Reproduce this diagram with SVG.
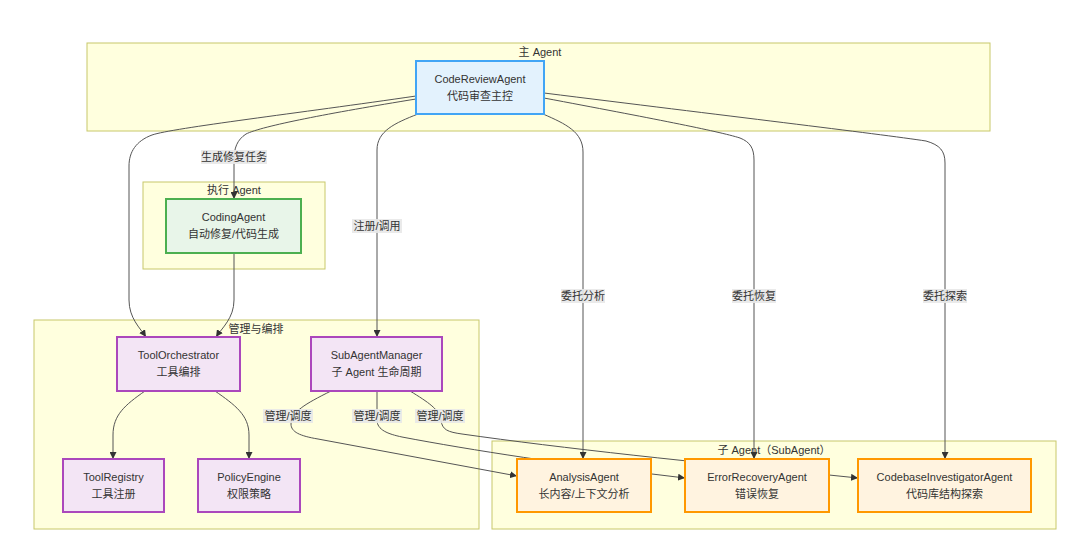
<svg xmlns="http://www.w3.org/2000/svg" width="1080" height="553" viewBox="0 0 1080 553">
<defs>
<marker id="arr" viewBox="0 0 10 10" refX="10" refY="5" markerWidth="7" markerHeight="7" markerUnits="userSpaceOnUse" orient="auto">
<path d="M0,0 L10,5 L0,10 z" fill="#333"/>
</marker>
<style>
text{font-family:"Liberation Sans","Noto Sans CJK SC",sans-serif;font-size:11px;fill:#333;text-anchor:middle;dominant-baseline:central}
.cluster{fill:#ffffde;stroke:#c8c86a;stroke-width:1}
.edge{fill:none;stroke:#555;stroke-width:1;marker-end:url(#arr)}
.lbl{fill:#e8e8e8;opacity:0.9}
.blue{fill:#e3f2fd;stroke:#42a5f5;stroke-width:2}
.green{fill:#e8f5e9;stroke:#4caf50;stroke-width:2}
.purple{fill:#f3e5f5;stroke:#ab47bc;stroke-width:2}
.orange{fill:#fff3e0;stroke:#ff9800;stroke-width:2}
</style>
</defs>
<rect width="1080" height="553" fill="#ffffff"/>

<g id="clusters">
<g id="cluster-main"><rect class="cluster" x="87" y="43" width="903" height="88"/><text x="540" y="52">主 Agent</text></g>
<g id="cluster-exec"><rect class="cluster" x="143" y="182" width="182" height="87"/><text x="234" y="190">执行 Agent</text></g>
<g id="cluster-mgmt"><rect class="cluster" x="34" y="320" width="445" height="209"/><text x="256" y="329">管理与编排</text></g>
<g id="cluster-sub"><rect class="cluster" x="492" y="441" width="564" height="88"/><text x="774" y="450">子 Agent（SubAgent）</text></g>
</g>

<g id="connectors">
<path class="edge" d="M416,96 C300,113 172,128 152,135 C136,141 129,152 129,166 L129,300 C129,318 140,328 146,337"/>
<path class="edge" d="M416,99 C330,113 262,126 246,134 C237,140 234,148 234,160 L234,199"/>
<path class="edge" d="M234,253 L234,300 C234,318 222,328 216,337"/>
<path class="edge" d="M418,114 C395,123 377,131 377,150 L377,337"/>
<path class="edge" d="M543,114 C566,124 583,132 583,152 L583,459"/>
<path class="edge" d="M544,98 C650,118 718,131 740,138 C750,142 754,148 754,160 L754,459"/>
<path class="edge" d="M544,93 C720,115 880,134 926,141 C940,145 945,151 945,163 L945,459"/>
<path class="edge" d="M145,391 C125,405 113,415 113,435 L113,459"/>
<path class="edge" d="M215,391 C235,405 249,415 249,435 L249,459"/>
<path class="edge" d="M331,391 C305,404 291,412 291,424 C291,432 300,436 318,439 L517,476"/>
<path class="edge" d="M377,391 L377,420 C377,430 388,434 402,437 C470,450 575,466 652,474 L685,478"/>
<path class="edge" d="M410,391 C428,402 440,410 441,420 C442,430 448,432 462,434 C560,448 700,463 829,475 L858,478"/>
</g>

<g id="edge-labels">
<g><rect class="lbl" x="201" y="150" width="66" height="14"/><text x="234" y="157">生成修复任务</text></g>
<g><rect class="lbl" x="352" y="219" width="50" height="14"/><text x="377" y="226">注册/调用</text></g>
<g><rect class="lbl" x="561" y="289" width="44" height="14"/><text x="583" y="296">委托分析</text></g>
<g><rect class="lbl" x="732" y="289" width="44" height="14"/><text x="754" y="296">委托恢复</text></g>
<g><rect class="lbl" x="923" y="289" width="44" height="14"/><text x="945" y="296">委托探索</text></g>
<g><rect class="lbl" x="263" y="409" width="50" height="14"/><text x="288" y="416">管理/调度</text></g>
<g><rect class="lbl" x="352" y="409" width="50" height="14"/><text x="377" y="416">管理/调度</text></g>
<g><rect class="lbl" x="415" y="409" width="50" height="14"/><text x="440" y="416">管理/调度</text></g>
</g>

<g id="node-CodeReviewAgent"><rect class="blue" x="416" y="61" width="128" height="53"/><text x="480" y="79">CodeReviewAgent</text><text x="480" y="96">代码审查主控</text></g>
<g id="node-CodingAgent"><rect class="green" x="166" y="199" width="135" height="54"/><text x="233.5" y="217">CodingAgent</text><text x="233.5" y="234">自动修复/代码生成</text></g>
<g id="node-ToolOrchestrator"><rect class="purple" x="117" y="337" width="123" height="54"/><text x="178.5" y="355">ToolOrchestrator</text><text x="178.5" y="372">工具编排</text></g>
<g id="node-SubAgentManager"><rect class="purple" x="311" y="337" width="131" height="54"/><text x="376.5" y="355">SubAgentManager</text><text x="376.5" y="372">子 Agent 生命周期</text></g>
<g id="node-ToolRegistry"><rect class="purple" x="63" y="459" width="101" height="53"/><text x="113.5" y="477">ToolRegistry</text><text x="113.5" y="494">工具注册</text></g>
<g id="node-PolicyEngine"><rect class="purple" x="198" y="459" width="102" height="53"/><text x="249" y="477">PolicyEngine</text><text x="249" y="494">权限策略</text></g>
<g id="node-AnalysisAgent"><rect class="orange" x="517" y="459" width="134" height="53"/><text x="584" y="477">AnalysisAgent</text><text x="584" y="494">长内容/上下文分析</text></g>
<g id="node-ErrorRecoveryAgent"><rect class="orange" x="685" y="459" width="144" height="53"/><text x="757" y="477">ErrorRecoveryAgent</text><text x="757" y="494">错误恢复</text></g>
<g id="node-CodebaseInvestigatorAgent"><rect class="orange" x="858" y="459" width="173" height="53"/><text x="944.5" y="477">CodebaseInvestigatorAgent</text><text x="944.5" y="494">代码库结构探索</text></g>
</svg>
